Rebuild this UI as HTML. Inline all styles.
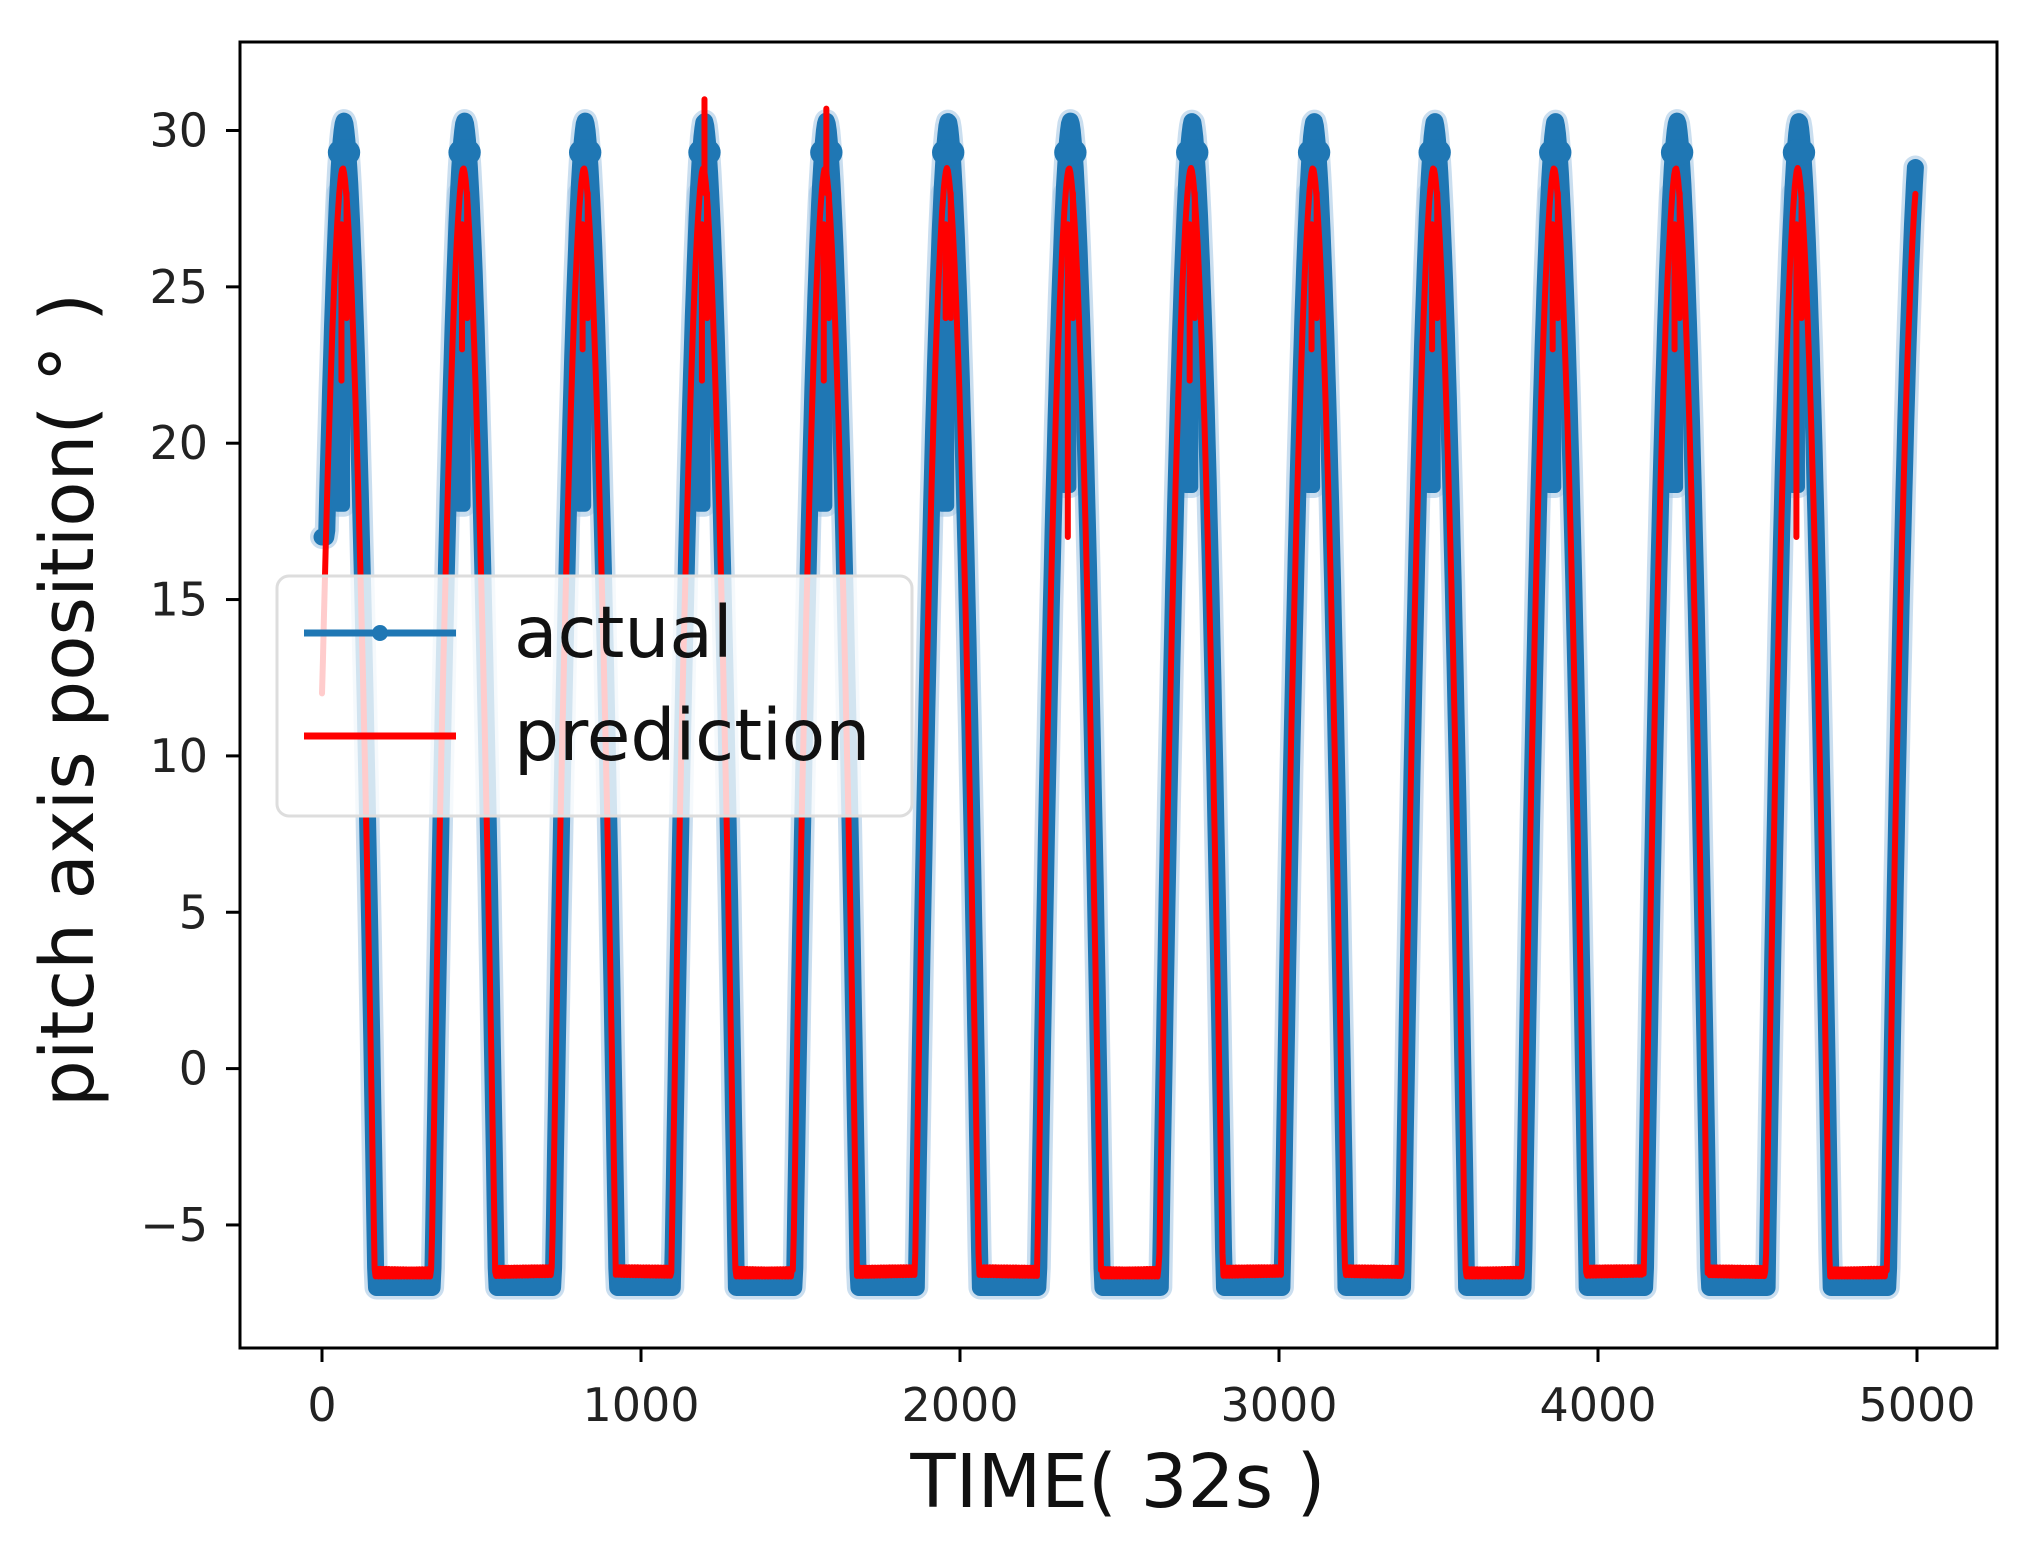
<!DOCTYPE html>
<html><head><meta charset="utf-8"><style>
html,body{margin:0;padding:0;background:#fff;}
svg{display:block;font-family:"DejaVu Sans","Liberation Sans",sans-serif;}
</style></head><body>
<svg id="s" width="2034" height="1553" viewBox="0 0 2034 1553" xmlns="http://www.w3.org/2000/svg">
<rect width="2034" height="1553" fill="#fff"/>
<defs><clipPath id="c"><rect x="240" y="42" width="1757" height="1306"/></clipPath></defs>
<g id="plot" clip-path="url(#c)"></g>
<rect x="240" y="42" width="1757" height="1306" fill="none" stroke="#000" stroke-width="3"/>
<g id="ticks" stroke="#000" stroke-width="3"></g>
<g id="labels" font-size="46" fill="#222"></g>
<text x="1118" y="1507" font-size="74" text-anchor="middle" fill="#111">TIME( 32s )</text>
<text transform="translate(93,700) rotate(-90)" font-size="74" text-anchor="middle" fill="#111">pitch axis position( ° )</text>
<g>
<rect x="277" y="576" width="635" height="240" rx="12" fill="#fff" fill-opacity="0.8" stroke="#ddd" stroke-width="3"/>
<line x1="304" y1="633" x2="456" y2="633" stroke="#1f77b4" stroke-width="7"/>
<circle cx="380" cy="633" r="8" fill="#1f77b4"/>
<line x1="304" y1="736" x2="456" y2="736" stroke="#f00" stroke-width="7"/>
<text x="514" y="657" font-size="71" fill="#111">actual</text>
<text x="514" y="760" font-size="71" fill="#111">prediction</text>
</g>
</svg>
<script>
var NS="http://www.w3.org/2000/svg";
function X(t){return 322+t*0.319;}
function Y(v){return 130.5+(30-v)*31.27;}
var peaks=[69,447,825,1199,1581,1963,2346,2728,3110,3488,3866,4248,4630,5010];
function f(t,amp,low){var best=low;for(var i=0;i<peaks.length;i++){var d=Math.abs(t-peaks[i]);if(d<100){var v=low+(amp-low)*(1-Math.pow(d/100,1.7));if(v>best)best=v;}}return best;}
var plot=document.getElementById("plot");
function path(d,stroke,w,op){var p=document.createElementNS(NS,"path");p.setAttribute("d",d);p.setAttribute("fill","none");p.setAttribute("stroke",stroke);p.setAttribute("stroke-width",w);p.setAttribute("stroke-linejoin","round");p.setAttribute("stroke-linecap","round");if(op)p.setAttribute("stroke-opacity",op);plot.appendChild(p);}
var b="";
for(var t=0;t<=4995;t+=3){var v=f(t,30.3,-7);if(t<30)v=Math.max(v,17);b+=(b?"L":"M")+X(t).toFixed(1)+","+Y(v).toFixed(1);}
var bd="";
peaks.forEach(function(P,i){if(P>4990)return;var lo=i<6?18:18.6;bd+="M"+X(P-20)+","+Y(28)+"L"+X(P-20)+","+Y(lo)+"L"+X(P)+","+Y(lo)+"L"+X(P)+","+Y(28);});
path(b,"#a6c8e4",24,0.6);path(bd,"#a6c8e4",22,0.6);
path(b,"#1f77b4",17);path(bd,"#1f77b4",12);
peaks.forEach(function(P){if(P>4990)return;path("M"+X(P-10)+","+Y(29.3)+"L"+X(P+10)+","+Y(29.3),"#1f77b4",26);});
var bb="";
peaks.forEach(function(P,i){if(i+1<peaks.length&&peaks[i+1]<5000){bb+="M"+X(P+105)+","+Y(-6.9)+"L"+X(peaks[i+1]-105)+","+Y(-6.9);}});
path(bb,"#1f77b4",16);
var r="";
for(var t=0;t<=4995;t+=3){var v=f(t+4,28.8,-6.5);if(v<-6.4)v=-6.5+0.15*Math.sin(t*0.7);if(t<20)v=Math.max(v,12+t*0.3);r+=(r?"L":"M")+X(t).toFixed(1)+","+Y(v).toFixed(1);}
path(r,"#ff0000",6);
var rd="";
var dips=[22,23,23,22,22,24,17,22,23,23,23,23,17];
peaks.forEach(function(P,i){if(P>4990)return;var x=X(P-8);rd+="M"+x+","+Y(27)+"L"+x+","+Y(dips[i]);var x2=X(P+8);rd+="M"+x2+","+Y(28)+"L"+x2+","+Y(24);});
rd+="M"+X(1199)+","+Y(28)+"L"+X(1199)+","+Y(31)+"M"+X(1581)+","+Y(28)+"L"+X(1581)+","+Y(30.7);
path(rd,"#ff0000",6);
var tk=document.getElementById("ticks"),lb=document.getElementById("labels");
function ln(a,b,c,d){var l=document.createElementNS(NS,"line");l.setAttribute("x1",a);l.setAttribute("y1",b);l.setAttribute("x2",c);l.setAttribute("y2",d);tk.appendChild(l);}
function tx(x,y,s,anc){var e=document.createElementNS(NS,"text");e.setAttribute("x",x);e.setAttribute("y",y);e.setAttribute("text-anchor",anc);e.textContent=s;lb.appendChild(e);}
[-5,0,5,10,15,20,25,30].forEach(function(v){var y=Y(v);ln(226,y,240,y);tx(208,y+16,v<0?"\u2212"+(-v):""+v,"end");});
[0,1000,2000,3000,4000,5000].forEach(function(t){var x=X(t);ln(x,1348,x,1362);tx(x,1421,""+t,"middle");});
</script>
</body></html>
